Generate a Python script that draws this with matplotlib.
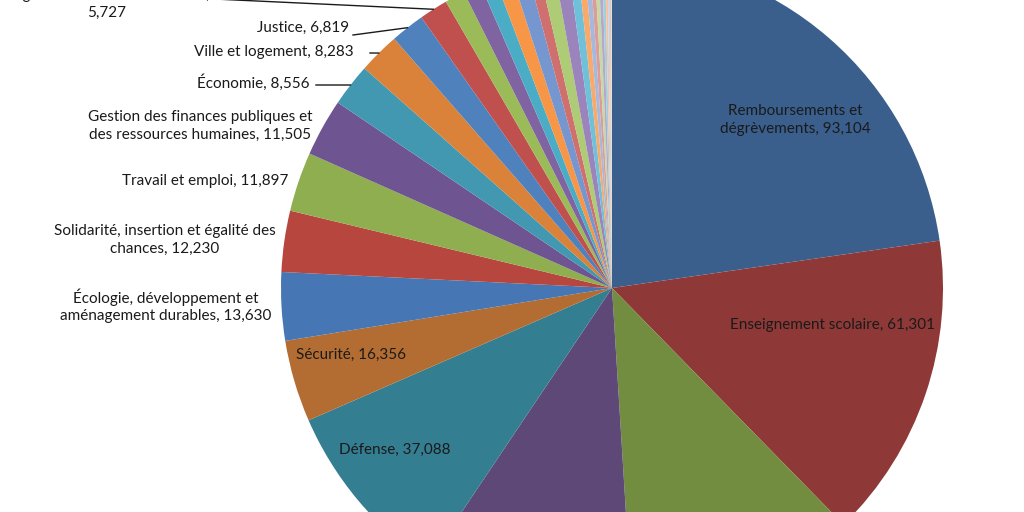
import numpy as np
import matplotlib
matplotlib.use('Agg')
import matplotlib.pyplot as plt

# budget missions (millions d'euros), clockwise from 12 o'clock
missions = [
    "Remboursements et\ndégrèvements",
    "Enseignement scolaire",
    "Engagements financiers de l'État",
    "Recherche et enseignement supérieur",
    "Défense",
    "Sécurité",
    "Écologie, développement et\naménagement durables",
    "Solidarité, insertion et égalité des\nchances",
    "Travail et emploi",
    "Gestion des finances publiques et\ndes ressources humaines",
    "Économie",
    "Ville et logement",
    "Justice",
    "Régimes sociaux et de retraite,\n",
    "Agriculture, pêche, alimentation, forêt et affaires rurales",
    "Aide publique au développement",
    "Anciens combattants, mémoire et liens avec la nation",
    "Action extérieure de l'État",
    "Administration générale et territoriale de l'État",
    "Outre-mer",
    "Culture",
    "Relations avec les collectivités territoriales",
    "Médias, livre et industries culturelles",
    "Direction de l'action du Gouvernement",
    "Santé",
    "Pouvoirs publics",
    "Immigration, asile et intégration",
    "Sport, jeunesse et vie associative",
    "Conseil et contrôle de l'État",
    "Provisions",
    "Politique des territoires",
    "Aide à l'accès au logement",
    "Remboursements divers",
]
credits = [93104, 61301, 46500, 42600, 37088, 16356, 13630, 12230, 11897, 11505,
           8556, 8283, 6819, 5727,
           4000, 3600, 3100, 3300, 3300, 2300, 3000, 2900, 1900,
           1400, 1100, 900, 800, 700, 600, 500, 400, 300, 200]

# which labels fall inside the visible crop
shown = [True, True, False, False, True, True, True, True, True, True,
         True, True, True, True] + [False] * 19

colors = ['#3A5F8D', '#8E3937', '#728D3F', '#5E4878', '#347E92', '#B36D32',
          '#4676B3', '#B7463F', '#8FAE50', '#6E5592', '#4198B0', '#DA823A',
          '#4F81BD', '#C0504D', '#9BBB59', '#8064A2', '#4BACC6', '#F79646',
          '#7696CF', '#CF706E', '#AECB76', '#9B84BC', '#6FC0D9', '#F9AA6A',
          '#A5B9DD', '#DB9C9A', '#C5D9A1', '#B5A8CB', '#9DD0E0', '#FAC19A',
          '#C6D2EA', '#E8C1C0', '#D8E6C1']

# layout (pixel coords of label centres; leader line starts)
label_xy = {0: (795, 120), 1: (832, 325), 4: (395, 450), 5: (351, 355),
            6: (166, 306), 7: (165, 240), 8: (205, 181), 9: (200, 126),
            10: (253, 83), 11: (274, 52), 12: (303, 28), 13: (107, 4)}
leader_start = {10: (316, 85), 11: (370, 53), 12: (353, 35), 13: (214, -1)}

W, H = 1024, 512
cx, cy, R = 612, 288, 331


def fmt(v):
    return f"{v:,}"


def main():
    fig = plt.figure(figsize=(W / 100, H / 100), dpi=100)
    ax = fig.add_axes([0, 0, 1, 1])
    wedges, _ = ax.pie(credits, colors=colors, startangle=90, counterclock=False,
                       center=(cx, H - cy), radius=R, frame=True,
                       wedgeprops=dict(linewidth=0))
    ax.set_xlim(0, W)
    ax.set_ylim(0, H)
    ax.set_aspect('equal')
    ax.axis('off')

    for i, w in enumerate(wedges):
        if not shown[i]:
            continue
        tx, ty = label_xy[i]
        if missions[i].endswith('\n'):
            txt = missions[i] + fmt(credits[i])
        else:
            txt = missions[i] + ", " + fmt(credits[i])
        ax.text(tx, H - ty, txt, ha='center', va='center', fontsize=11,
                family=['Lato', 'DejaVu Sans'], color='#1a1a1a',
                linespacing=1.3)
        if i in leader_start:
            mid = np.deg2rad((w.theta1 + w.theta2) / 2)
            ex = cx + R * np.cos(mid)
            ey = (H - cy) + R * np.sin(mid)
            sx, sy = leader_start[i]
            ax.plot([sx, ex], [H - sy, ey], color='#1a1a1a', lw=1.0)

    fig.savefig('out.png', dpi=100)


if __name__ == "__main__":
    main()
